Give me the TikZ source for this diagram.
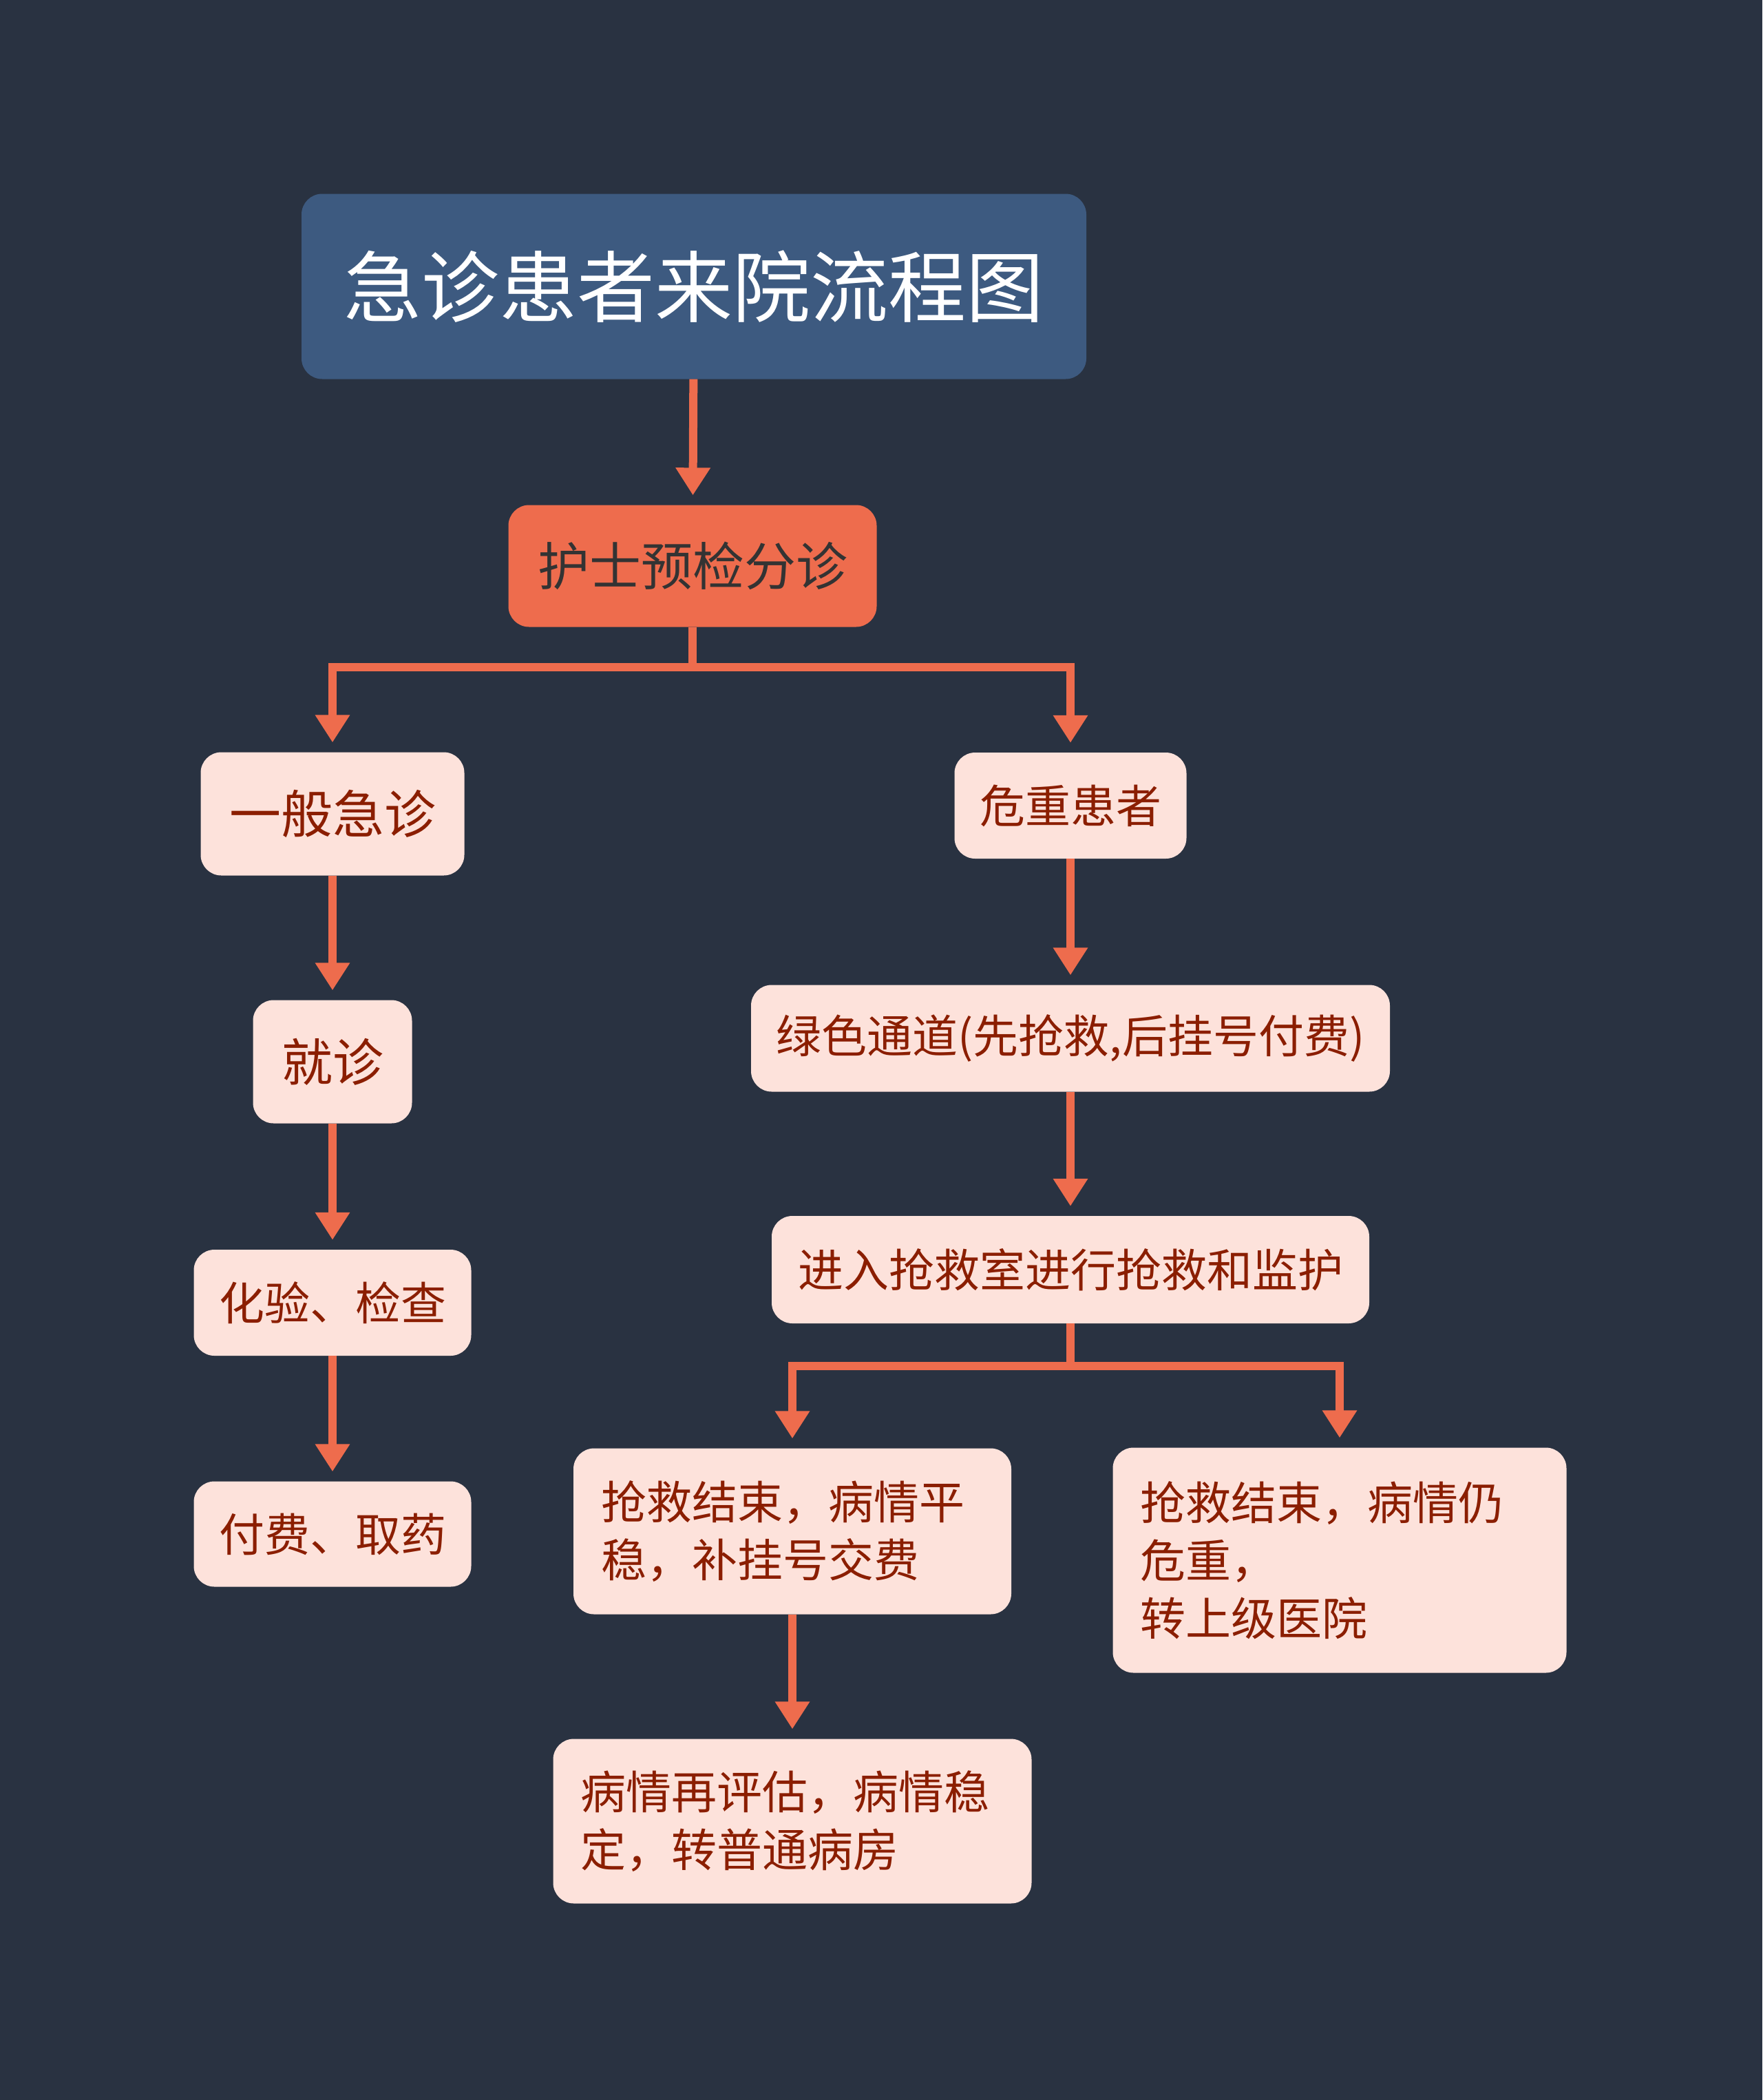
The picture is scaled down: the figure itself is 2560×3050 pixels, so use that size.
\documentclass[tikz,border=0pt]{standalone}
\usepackage{fontspec}
\setmainfont{Noto Sans CJK SC}
\usetikzlibrary{arrows.meta}

\definecolor{bgdark}{HTML}{293241}
\definecolor{titleblue}{HTML}{3D5A80}
\definecolor{accent}{HTML}{EE6C4D}
\definecolor{boxpink}{HTML}{FDE2DB}
\definecolor{textred}{HTML}{8B1E00}

\tikzset{
  box/.style={fill=boxpink, rounded corners=30pt, inner sep=0pt, text=textred,
              font=\fontsize{66}{84}\selectfont, align=center},
  multibox/.style={box, align=left, inner xsep=40pt},
  link/.style={draw=accent, line width=12pt,
               -{Triangle[width=48pt,length=40pt]}, shorten >=14pt},
  fork/.style={draw=accent, line width=12pt}
}

\begin{document}
\begin{tikzpicture}[x=1pt,y=-1pt]
    \fill[bgdark] (0,0) rectangle (2560,3050);
    \useasboundingbox (0,0) rectangle (2560,3050);

    \begin{scope}
    % head of the chart
    \node[fill=titleblue, rounded corners=30pt, text=white, minimum width=1140pt, minimum height=269pt,
          font=\fontsize{113}{130}\selectfont] (title) at (1008,416) {急诊患者来院流程图};
    \node[fill=accent, rounded corners=30pt, text=black!80, minimum width=535pt, minimum height=177pt,
          font=\fontsize{75}{90}\selectfont] (nurse) at (1006,822) {护士预检分诊};

    % left branch
    \node[box, minimum width=383pt, minimum height=179pt, font=\fontsize{75}{90}\selectfont] (general) at (483,1182) {一般急诊};
    \node[box, minimum width=231pt, minimum height=179pt, font=\fontsize{74}{90}\selectfont] (visit) at (483,1542) {就诊};
    \node[box, minimum width=403pt, minimum height=154pt] (labtest) at (483,1892) {化验、检查};
    \node[box, minimum width=403pt, minimum height=153pt] (payment) at (483,2228) {付费、取药};

    % right branch
    \node[box, minimum width=337pt, minimum height=154pt] (critical) at (1555,1170) {危重患者};
    \node[box, minimum width=928pt, minimum height=155pt] (green) at (1555,1508) {绿色通道(先抢救,后挂号付费)};
    \node[box, minimum width=868pt, minimum height=156pt] (rescue) at (1555,1844) {进入抢救室进行抢救和监护};
    \node[multibox, text width=556pt, minimum height=241pt] (stable) at (1151,2224)
        {抢救结束，病情平\\稳，补挂号交费};
    \node[multibox, text width=579pt, minimum height=327pt] (transfer) at (1946,2266)
        {抢救结束，病情仍\\危重，\\转上级医院};
    \node[multibox, text width=615pt, minimum height=239pt] (ward) at (1151,2645)
        {病情再评估，病情稳\\定，转普通病房};

    % connectors
    \coordinate (split1) at (1006,969);
    \coordinate (split2) at (1555,1984);
    \draw[link] (title) -- (nurse);
    \draw[fork] (nurse.south) -- (split1);
    \draw[link] (split1) -| (general.north);
    \draw[link] (split1) -| (critical.north);
    \draw[link] (general) -- (visit);
    \draw[link] (visit) -- (labtest);
    \draw[link] (labtest) -- (payment);
    \draw[link] (critical) -- (green);
    \draw[link] (green) -- (rescue);
    \draw[fork] (rescue.south) -- (split2);
    \draw[link] (split2) -| (stable.north);
    \draw[link] (split2) -| (transfer.north);
    \draw[link] (stable) -- (ward);
    \end{scope}
\end{tikzpicture}
\end{document}
